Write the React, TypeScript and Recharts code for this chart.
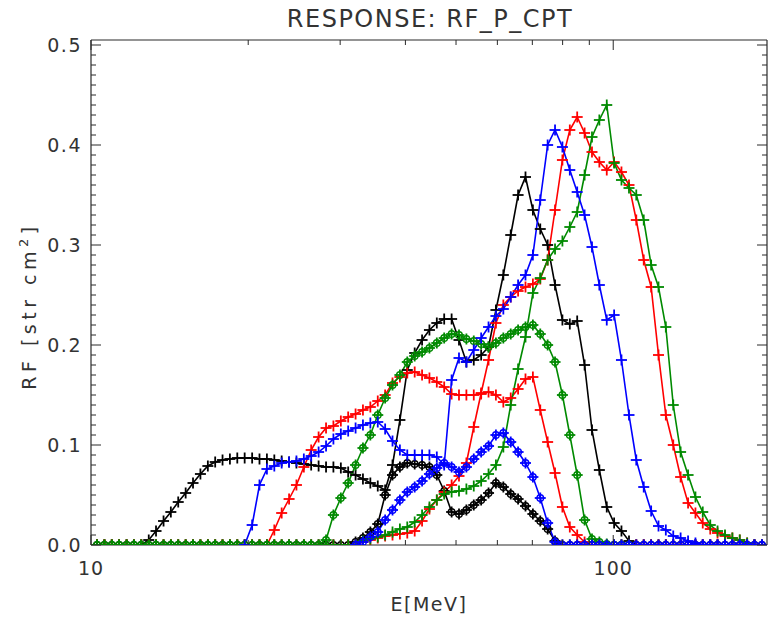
import React from "react";
import { LineChart, Line, XAxis, YAxis } from "recharts";

// energy grid (MeV), log spaced
const ENERGY = [
  10.27, 10.61, 10.96, 11.32, 11.7, 12.08, 12.48, 12.9, 13.32, 13.77,
  14.22, 14.69, 15.18, 15.68, 16.2, 16.74, 17.29, 17.86, 18.45, 19.06,
  19.69, 20.35, 21.02, 21.72, 22.44, 23.18, 23.95, 24.74, 25.56, 26.4,
  27.28, 28.19, 29.12, 30.09, 31.08, 32.11, 33.17, 34.27, 35.41, 36.58,
  37.79, 39.04, 40.33, 41.67, 43.05, 44.47, 45.94, 47.46, 49.04, 50.66,
  52.34, 54.07, 55.86, 57.71, 59.62, 61.6, 63.64, 65.74, 67.92, 70.17,
  72.49, 74.89, 77.37, 79.93, 82.58, 85.31, 88.14, 91.06, 94.07, 97.19,
  100.4, 103.7, 107.2, 110.7, 114.4, 118.2, 122.1, 126.1, 130.3, 134.6,
  139.1, 143.7, 148.4, 153.4, 158.4, 163.7, 169.1, 174.7, 180.5, 186.4,
  192.6,
];

const BLACK_A = [
  0, 0, 0, 0, 0, 0, 0, 0.005, 0.014, 0.024,
  0.033, 0.043, 0.052, 0.062, 0.071, 0.079, 0.083, 0.085, 0.086, 0.087,
  0.087, 0.087, 0.086, 0.086, 0.085, 0.084, 0.083, 0.082, 0.081, 0.08,
  0.079, 0.078, 0.078, 0.077, 0.073, 0.07, 0.066, 0.062, 0.059, 0.055,
  0.08, 0.125, 0.175, 0.192, 0.205, 0.215, 0.222, 0.226, 0.226, 0.205,
  0.183, 0.185, 0.19, 0.198, 0.235, 0.27, 0.31, 0.35, 0.368, 0.335,
  0.316, 0.3, 0.26, 0.225, 0.221, 0.224, 0.18, 0.115, 0.075, 0.038,
  0.022, 0.014, 0.004, 0, 0, 0, 0, 0, 0, 0,
  0, 0, 0, 0, 0, 0, 0, 0, 0, 0,
  0,
];

const BLACK_B = [
  0, 0, 0, 0, 0, 0, 0, 0, 0, 0,
  0, 0, 0, 0, 0, 0, 0, 0, 0, 0,
  0, 0, 0, 0, 0, 0, 0, 0, 0, 0,
  0, 0, 0, 0, 0, 0.003, 0.007, 0.013, 0.021, 0.05,
  0.07, 0.078, 0.082, 0.081, 0.08, 0.078, 0.07, 0.054, 0.033, 0.031,
  0.035, 0.04, 0.045, 0.052, 0.062, 0.058, 0.051, 0.046, 0.039, 0.031,
  0.024, 0.016, 0.004, 0, 0, 0, 0, 0, 0, 0,
  0, 0, 0, 0, 0, 0, 0, 0, 0, 0,
  0, 0, 0, 0, 0, 0, 0, 0, 0, 0,
  0,
];

const BLUE_A = [
  null, null, null, null, null, null, null, null, null, null,
  null, null, null, null, null, null, null, null, null, null,
  0, 0.02, 0.06, 0.076, 0.079, 0.082, 0.083, 0.084, 0.086, 0.089,
  0.093, 0.099, 0.106, 0.111, 0.114, 0.117, 0.12, 0.122, 0.123, 0.116,
  0.104, 0.095, 0.09, 0.09, 0.09, 0.09, 0.088, 0.08, 0.165, 0.187,
  0.183, 0.195, 0.207, 0.218, 0.229, 0.236, 0.248, 0.26, 0.27, 0.29,
  0.345, 0.4, 0.415, 0.398, 0.375, 0.353, 0.33, 0.298, 0.26, 0.225,
  0.23, 0.185, 0.13, 0.085, 0.058, 0.034, 0.019, 0.015, 0.009, 0.007,
  0.004, 0.002, 0, 0, 0, 0, 0, 0, 0, 0,
  0,
];

const BLUE_B = [
  null, null, null, null, null, null, null, null, null, null,
  null, null, null, null, null, null, null, null, null, null,
  null, null, null, null, null, null, null, null, null, null,
  null, null, null, null, null, 0, 0.003, 0.008, 0.013, 0.025,
  0.035, 0.045, 0.053, 0.058, 0.064, 0.071, 0.077, 0.082, 0.078, 0.073,
  0.078, 0.086, 0.093, 0.099, 0.11, 0.112, 0.103, 0.093, 0.082, 0.068,
  0.047, 0.022, 0.003, 0, 0, 0, 0, 0, 0, 0,
  0, 0, 0, 0, 0, 0, 0, 0, 0, 0,
  0, 0, 0, 0, 0, 0, 0, 0, 0, 0,
  0,
];

const RED_A = [
  0, 0, 0, 0, 0, 0, 0, 0, 0, 0,
  0, 0, 0, 0, 0, 0, 0, 0, 0, 0,
  0, 0, 0, 0, 0.015, 0.032, 0.046, 0.06, 0.078, 0.095,
  0.108, 0.117, 0.119, 0.124, 0.128, 0.131, 0.135, 0.138, 0.144, 0.15,
  0.162, 0.168, 0.172, 0.173, 0.17, 0.167, 0.163, 0.158, 0.151, 0.15,
  0.15, 0.15, 0.151, 0.153, 0.15, 0.143, 0.147, 0.156, 0.166, 0.168,
  0.135, 0.103, 0.072, 0.038, 0.018, 0.01, 0.003, 0, 0, 0,
  0, 0, 0, 0, 0, 0, 0, 0, 0, 0,
  0, 0, 0, 0, 0, 0, 0, 0, 0, 0,
  0,
];

const RED_B = [
  0, 0, 0, 0, 0, 0, 0, 0, 0, 0,
  0, 0, 0, 0, 0, 0, 0, 0, 0, 0,
  0, 0, 0, 0, 0, 0, 0, 0, 0, 0,
  0, 0, 0, 0, 0, 0, 0.003, 0.005, 0.007, 0.009,
  0.01, 0.011, 0.012, 0.014, 0.024, 0.036, 0.045, 0.053, 0.06, 0.069,
  0.082, 0.118, 0.152, 0.185, 0.222, 0.24, 0.248, 0.254, 0.258, 0.261,
  0.266, 0.285, 0.335, 0.385, 0.415, 0.428, 0.412, 0.393, 0.383, 0.375,
  0.383, 0.373, 0.36, 0.325, 0.285, 0.258, 0.19, 0.13, 0.1, 0.068,
  0.042, 0.032, 0.022, 0.016, 0.012, 0.009, 0.007, 0.005, 0.002, 0,
  0,
];

const GREEN_A = [
  0, 0, 0, 0, 0, 0, 0, 0, 0, 0,
  0, 0, 0, 0, 0, 0, 0, 0, 0, 0,
  0, 0, 0, 0, 0, 0, 0, 0, 0, 0,
  0, 0.005, 0.03, 0.047, 0.062, 0.08, 0.097, 0.11, 0.13, 0.147,
  0.16, 0.17, 0.183, 0.189, 0.193, 0.197, 0.202, 0.207, 0.211, 0.21,
  0.206, 0.204, 0.201, 0.198, 0.202, 0.207, 0.211, 0.215, 0.218, 0.22,
  0.211, 0.2, 0.183, 0.15, 0.11, 0.07, 0.025, 0.006, 0.003, 0.001,
  0, 0, 0, null, null, null, null, null, null, null,
  null, null, null, null, null, null, null, null, null, null,
  null,
];

const GREEN_B = [
  0, 0, 0, 0, 0, 0, 0, 0, 0, 0,
  0, 0, 0, 0, 0, 0, 0, 0, 0, 0,
  0, 0, 0, 0, 0, 0, 0, 0, 0, 0,
  0, 0, 0, 0, 0, 0, 0.004, 0.006, 0.008, 0.01,
  0.013, 0.016, 0.018, 0.023, 0.03, 0.038, 0.045, 0.051, 0.053, 0.054,
  0.056, 0.059, 0.064, 0.071, 0.08, 0.098, 0.14, 0.176, 0.208, 0.252,
  0.267, 0.285, 0.296, 0.304, 0.318, 0.333, 0.37, 0.408, 0.425, 0.44,
  0.382, 0.365, 0.357, 0.35, 0.325, 0.28, 0.258, 0.218, 0.14, 0.093,
  0.07, 0.048, 0.033, 0.02, 0.014, 0.01, 0.007, 0.005, 0.002, 0,
  0,
];

const X_TICKS = [10, 20, 30, 40, 50, 60, 70, 80, 90, 100];
const X_LABELS = [10, 100];
const Y_TICKS = Array.from({ length: 51 }, (_, i) => i / 100);

const FONT = "'DejaVu Sans ExtraLight', 'DejaVu Sans', sans-serif";
const INK = "#2a2a2a";
const TEXT = "#333";
const BLACK = "#000000";
const BLUE = "#0000ff";
const RED = "#ff0000";
const GREEN = "#008a00";

const SERIES = [
  { key: "blackA", values: BLACK_A, color: BLACK, circle: false },
  { key: "blackB", values: BLACK_B, color: BLACK, circle: true },
  { key: "redA", values: RED_A, color: RED, circle: false },
  { key: "redB", values: RED_B, color: RED, circle: false },
  { key: "greenA", values: GREEN_A, color: GREEN, circle: true },
  { key: "greenB", values: GREEN_B, color: GREEN, circle: false },
  { key: "blueA", values: BLUE_A, color: BLUE, circle: false },
  { key: "blueB", values: BLUE_B, color: BLUE, circle: true },
];

const rows = ENERGY.map((e, i) => {
  const r: Record<string, number | null> = { e };
  SERIES.forEach((s) => (r[s.key] = s.values[i]));
  return r;
});

function makeDot(color: string, circle: boolean) {
  return (props: any) => {
    const { cx, cy, index, value } = props;
    if (cx == null || cy == null || value == null) return <g key={`d${index}`} />;
    const a = 5.5;
    return (
      <g key={`d${index}`}>
        <line x1={cx - a} x2={cx + a} y1={cy} y2={cy} stroke={color} strokeWidth={1.8} />
        <line x1={cx} x2={cx} y1={cy - a} y2={cy + a} stroke={color} strokeWidth={1.8} />
        {circle && <circle cx={cx} cy={cy} r={3.3} fill="none" stroke={color} strokeWidth={1.4} />}
      </g>
    );
  };
}

const BottomTick = ({ x, y, payload }: any) => {
  const major = X_LABELS.includes(payload.value);
  return (
    <g>
      <line x1={x} x2={x} y1={y} y2={y - (major ? 10 : 5)} stroke={INK} />
      {major && (
        <text x={x} y={y + 30} textAnchor="middle" fontSize={19} fill={TEXT} fontFamily={FONT} letterSpacing={1}>
          {payload.value}
        </text>
      )}
    </g>
  );
};

const TopTick = ({ x, y, payload }: any) => {
  const major = X_LABELS.includes(payload.value);
  return <line x1={x} x2={x} y1={y} y2={y + (major ? 10 : 5)} stroke={INK} />;
};

const isMajorY = (v: number) => Math.abs(v * 10 - Math.round(v * 10)) < 1e-6;

const LeftTick = ({ x, y, payload }: any) => {
  const major = isMajorY(payload.value);
  return (
    <g>
      <line x1={x} x2={x + (major ? 10 : 5)} y1={y} y2={y} stroke={INK} />
      {major && (
        <text x={x - 9} y={y + 7} textAnchor="end" fontSize={19} fill={TEXT} fontFamily={FONT} letterSpacing={1.5}>
          {payload.value.toFixed(1)}
        </text>
      )}
    </g>
  );
};

const RightTick = ({ x, y, payload }: any) => {
  const major = isMajorY(payload.value);
  return <line x1={x} x2={x - (major ? 10 : 5)} y1={y} y2={y} stroke={INK} />;
};

export default function App() {
  const axisLine = { stroke: INK, strokeWidth: 1.2 };
  return (
    <div style={{ position: "absolute", left: 0, top: 0, width: 769, height: 617, background: "#fff" }}>
      <LineChart width={769} height={617} data={rows} margin={{ top: 30, right: 1, bottom: 42, left: 31 }}>
        <XAxis
          xAxisId="b"
          dataKey="e"
          type="number"
          scale="log"
          domain={[10, 197]}
          allowDataOverflow
          ticks={X_TICKS}
          interval={0}
          tickSize={0}
          tickMargin={0}
          tick={BottomTick}
          axisLine={axisLine}
          height={30}
        />
        <XAxis
          xAxisId="t"
          orientation="top"
          dataKey="e"
          type="number"
          scale="log"
          domain={[10, 197]}
          allowDataOverflow
          ticks={X_TICKS}
          interval={0}
          tickSize={0}
          tickMargin={0}
          tick={TopTick}
          axisLine={axisLine}
          height={10}
        />
        <YAxis
          yAxisId="l"
          type="number"
          domain={[0, 0.505]}
          allowDataOverflow
          ticks={Y_TICKS}
          interval={0}
          tickSize={0}
          tickMargin={0}
          tick={LeftTick}
          axisLine={axisLine}
          width={60}
        />
        <YAxis
          yAxisId="r"
          orientation="right"
          type="number"
          domain={[0, 0.505]}
          allowDataOverflow
          ticks={Y_TICKS}
          interval={0}
          tickSize={0}
          tickMargin={0}
          tick={RightTick}
          axisLine={axisLine}
          width={1}
        />
        {SERIES.map((s) => (
          <Line
            key={s.key}
            xAxisId="b"
            yAxisId="l"
            type="linear"
            dataKey={s.key}
            stroke={s.color}
            strokeWidth={1.6}
            dot={makeDot(s.color, s.circle)}
            activeDot={false}
            connectNulls={false}
            isAnimationActive={false}
          />
        ))}
      </LineChart>
      <svg
        width={769}
        height={617}
        style={{ position: "absolute", left: 0, top: 0, pointerEvents: "none" }}
        fontFamily={FONT}
        fill={TEXT}
      >
        <text x={430} y={27} textAnchor="middle" fontSize={24} letterSpacing={1.5}>
          RESPONSE: RF_P_CPT
        </text>
        <text x={429} y={611} textAnchor="middle" fontSize={19} letterSpacing={1.5}>
          E[MeV]
        </text>
        <text transform="translate(36,306) rotate(-90)" textAnchor="middle" fontSize={19} letterSpacing={4.5}>
          RF [str cm<tspan dy={-8} fontSize={13}>2</tspan>
          <tspan dy={8}>]</tspan>
        </text>
      </svg>
    </div>
  );
}
